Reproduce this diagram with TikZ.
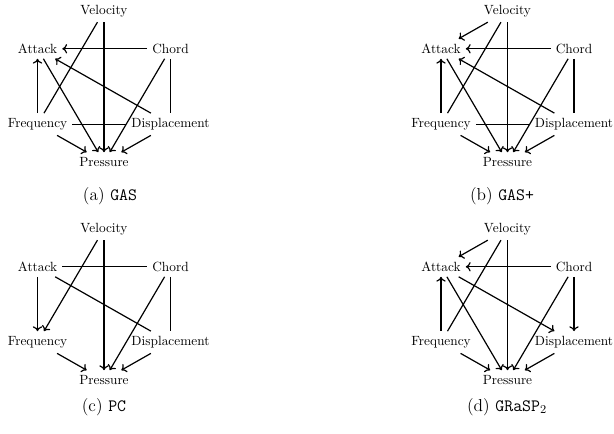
\documentclass[tikz,border=0pt]{standalone}
\usetikzlibrary{arrows.meta}
\begin{document}
\begin{tikzpicture}[x=0.75pt,y=-0.75pt]
\tikzset{
  vnode/.style={inner sep=3.7pt, font=\fontsize{10}{12}\selectfont},
  undir/.style={line width=0.9pt},
  dir/.style={line width=0.9pt,-{To[length=3.6pt,width=7pt]}},
  captxt/.style={inner sep=0pt, font=\fontsize{13}{15}\selectfont}
}
\newcommand\hexgraph[2]{%
  \begin{scope}[shift={#2}]
    \node[vnode] (#1V) at (0,-75.5) {Velocity};
    \node[vnode] (#1A) at (-66.5,-37.75) {Attack};
    \node[vnode] (#1C) at (66.5,-37.75) {Chord};
    \node[vnode] (#1F) at (-66.5,37.75) {Frequency};
    \node[vnode] (#1D) at (66.5,37.75) {Displacement};
    \node[vnode] (#1P) at (0,75.5) {Pressure};
  \end{scope}}
\useasboundingbox (0,0) rectangle (614,433);
% (a) GAS
\hexgraph{a}{(104,86.5)}
\draw[dir] (aV) -- (aP);
\draw[undir] (aV) -- (aF);
\draw[dir] (aC) -- (aA);
\draw[dir] (aC) -- (aP);
\draw[undir] (aC) -- (aD);
\draw[dir] (aF) -- (aA);
\draw[dir] (aA) -- (aP);
\draw[dir] (aD) -- (aA);
\draw[undir] (aF) -- (aD);
\draw[dir] (aF) -- (aP);
\draw[dir] (aD) -- (aP);
\node[captxt] (capa) at (110,196) {(a)\ \texttt{GAS}};
% (b) GAS+
\hexgraph{b}{(507.5,86.5)}
\draw[dir] (bV) -- (bA);
\draw[dir] (bV) -- (bP);
\draw[undir] (bV) -- (bF);
\draw[dir] (bC) -- (bA);
\draw[dir] (bC) -- (bP);
\draw[undir] (bC) -- (bD);
\draw[dir] (bF) -- (bA);
\draw[dir] (bA) -- (bP);
\draw[dir] (bD) -- (bA);
\draw[undir] (bF) -- (bD);
\draw[dir] (bF) -- (bP);
\draw[dir] (bD) -- (bP);
\node[captxt] (capb) at (502,196) {(b)\ \texttt{GAS+}};
% (c) PC
\hexgraph{c}{(104,304.5)}
\draw[dir] (cV) -- (cF);
\draw[dir] (cV) -- (cP);
\draw[undir] (cA) -- (cC);
\draw[dir] (cA) -- (cF);
\draw[undir] (cA) -- (cD);
\draw[dir] (cC) -- (cP);
\draw[undir] (cC) -- (cD);
\draw[dir] (cF) -- (cP);
\draw[dir] (cD) -- (cP);
\node[captxt] (capc) at (104,407) {(c)\ \texttt{PC}};
% (d) GRaSP2
\hexgraph{d}{(507.5,304.5)}
\draw[dir] (dV) -- (dA);
\draw[undir] (dV) -- (dF);
\draw[dir] (dV) -- (dP);
\draw[dir] (dC) -- (dA);
\draw[dir] (dC) -- (dD);
\draw[dir] (dC) -- (dP);
\draw[dir] (dF) -- (dA);
\draw[dir] (dA) -- (dP);
\draw[dir] (dA) -- (dD);
\draw[dir] (dF) -- (dP);
\draw[dir] (dD) -- (dP);
\node[captxt] (capd) at (507,407) {(d)\ \texttt{GRaSP}$_2$};
\end{tikzpicture}
\end{document}
